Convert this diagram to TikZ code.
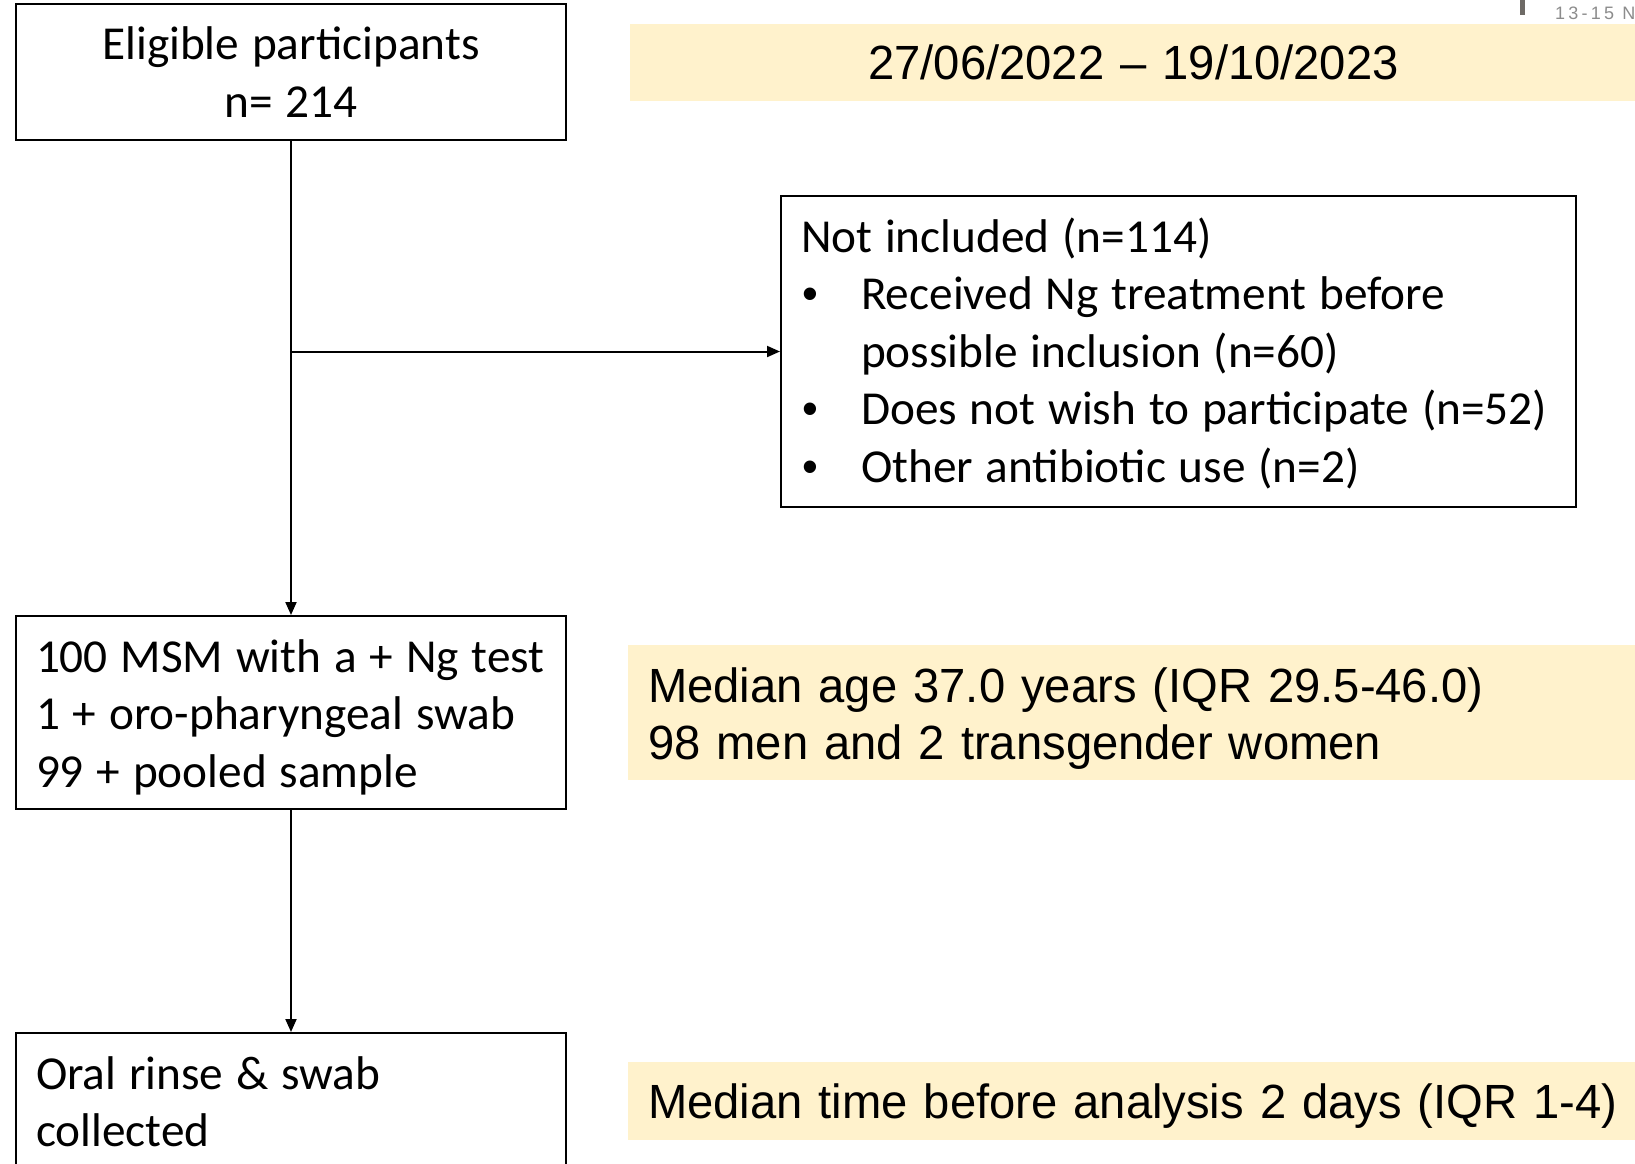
\documentclass[tikz,border=0pt]{standalone}
\usepackage{fontspec}
\setmainfont{Carlito}
\newfontfamily\arialf{Liberation Sans}[FakeStretch=0.983]
\newfontfamily\tagfont[LetterSpace=18]{Liberation Sans}
\usetikzlibrary{arrows.meta}
\definecolor{hl}{HTML}{FFF2CC}
\definecolor{tagbar}{HTML}{6E6A66}
\definecolor{taggray}{HTML}{8C8C8C}
\newcommand{\bul}{\makebox[60pt][l]{\hspace{1pt}{\arialf\fontsize{46}{46}\selectfont •}}}
\newcommand{\tline}[1]{\mbox{\spaceskip=12.8pt\relax #1}}
\tikzset{
  box/.style={draw=black, line width=2pt, rectangle, inner xsep=20pt, inner ysep=0pt,
    font=\fontsize{47.3}{57.5}\selectfont},
  hlbar/.style={fill=hl, draw=none, rectangle, inner xsep=20pt, inner ysep=0pt,
    font=\arialf\fontsize{48}{57}\selectfont},
  conn/.style={line width=2pt, -{Triangle[length=13pt,width=11pt]}}
}
\begin{document}
\begin{tikzpicture}[x=1pt,y=-1pt]
\useasboundingbox (0,0) rectangle (1635,1163);
\clip (0,0) rectangle (1635,1163);
\fill[white] (0,0) rectangle (1635,1163);

% highlighted bars
\node[hlbar, minimum width=1007pt, minimum height=77pt, align=center, text width=967pt] (d1) at (1133.5,62.5) {\mbox{27/06/2022 – 19/10/2023}};
\node[hlbar, minimum width=1007pt, minimum height=135pt, align=left, text width=967pt] (d2) at (1131.5,712.5) {\mbox{\rule{0pt}{47pt}Median age 37.0 years (IQR 29.5-46.0)}\\\mbox{98 men and 2 transgender women}};
\node[hlbar, minimum width=1007pt, minimum height=78pt, align=left, text width=967pt] (d3) at (1131.5,1101) {\mbox{\rule{0pt}{45pt}Median time before analysis 2 days (IQR 1-4)}};

% top-right tag
\fill[tagbar] (1520,0) rectangle (1525,15);
\node[anchor=base west, inner sep=0pt, text=taggray, font=\tagfont\fontsize{18}{20}\selectfont] (tag) at (1555,19) {13-15 N};

% boxes
\node[box, minimum width=550pt, minimum height=136pt, text width=510pt, align=center] (b1) at (291,72) {\tline{Eligible participants}\\\tline{n= 214}};
\node[box, minimum width=795pt, minimum height=311pt, text width=755pt, align=left] (b3) at (1178.5,351.5) {\tline{\rule{0pt}{38pt}Not included (n=114)}\\
\tline{\bul Received Ng treatment before}\\
\tline{\hspace*{60pt}possible inclusion (n=60)}\\
\tline{\bul Does not wish to participate (n=52)}\\
\tline{\bul Other antibiotic use (n=2)}};
\node[box, minimum width=550pt, minimum height=193pt, text width=510pt, align=left] (b2) at (291,712.5) {\tline{\rule{0pt}{42pt}100 MSM with a + Ng test}\\\tline{1 + oro-pharyngeal swab}\\\tline{99 + pooled sample}};
\node[box, minimum width=550pt, minimum height=137pt, text width=510pt, align=left] (b4) at (291,1101.5) {\tline{Oral rinse \& swab}\\\tline{collected}};

% connectors
\coordinate (br) at (b1.south |- b3.west);
\draw[conn] (b1.south) -- (b2.north);
\draw[conn] (br) -- (b3.west);
\draw[conn] (b2.south) -- (b4.north);
\end{tikzpicture}
\end{document}
